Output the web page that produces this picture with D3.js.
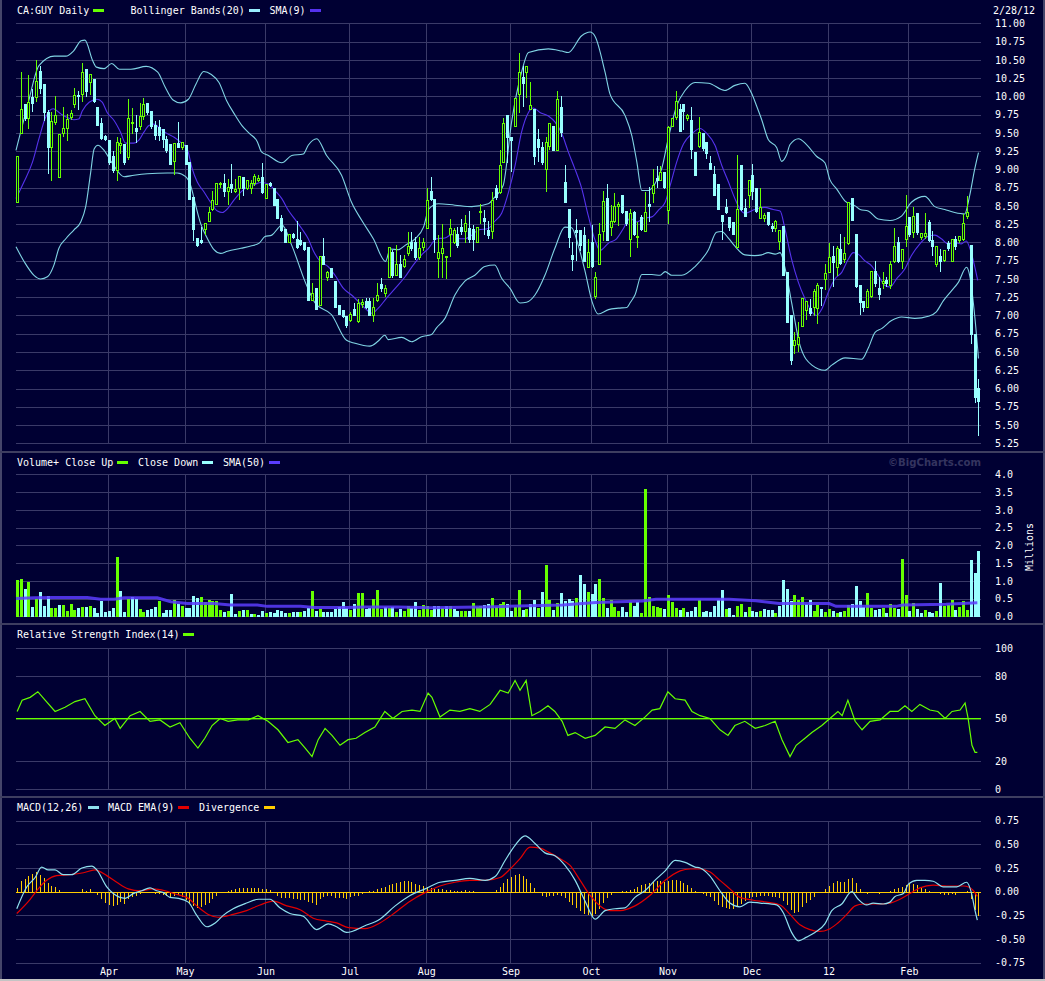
<!DOCTYPE html>
<html lang="en">
<head>
<meta charset="UTF-8">
<title>CA:GUY Daily</title>
<script src="https://d3js.org/d3.v7.min.js"></script>
<style>
  html, body { margin: 0; padding: 0; background: #000033; }
  svg { display: block; }
  text { font-family: "DejaVu Sans Mono", monospace; font-size: 10px; fill: #ffffff; }
</style>
</head>
<body>
<div id="chart"></div>
<script>
// ---- data (trading days Feb 28 2011 .. Feb 28 2012, index 0..251) ----
const monthLabels = ["Apr", "May", "Jun", "Jul", "Aug", "Sep", "Oct", "Nov", "Dec", "12", "Feb"];
const monthIdx = [24, 44, 65, 87, 107, 129, 150, 170, 192, 212, 233];

const priceTicks = [11.00, 10.75, 10.50, 10.25, 10.00, 9.75, 9.50, 9.25, 9.00, 8.75, 8.50, 8.25,
  8.00, 7.75, 7.50, 7.25, 7.00, 6.75, 6.50, 6.25, 6.00, 5.75, 5.50, 5.25];
const volTicks = [4.0, 3.5, 3.0, 2.5, 2.0, 1.5, 1.0, 0.5, 0.0];
const rsiTicks = [100, 80, 20, 0];
const rsiLabels = [100, 80, 50, 20, 0];
const macdTicks = [0.75, 0.50, 0.25, 0.00, -0.25, -0.50, -0.75];

const opens = [
  8.56, 9.50, 9.90, 9.71, 9.99, 9.99, 10.35, 10.17, 9.78, 9.30,
  9.65, 8.89, 9.50, 9.57, 9.72, 9.90, 10.02, 10.03, 10.37, 10.20,
  10.24, 9.86, 9.64, 9.46, 9.40, 9.19, 8.99, 9.34, 9.35, 9.17,
  9.64, 9.57, 9.60, 9.73, 9.91, 9.80, 9.61, 9.58, 9.55, 9.42,
  9.35, 9.11, 9.36, 9.30, 9.34, 9.10, 8.62, 8.06, 8.03, 8.18,
  8.30, 8.46, 8.53, 8.80, 8.82, 8.70, 8.80, 8.71, 8.74, 8.90,
  8.74, 8.74, 8.82, 8.86, 8.89, 8.61, 8.82, 8.75, 8.60, 8.33,
  8.19, 8.01, 8.12, 8.05, 8.03, 8.00, 7.94, 7.21, 7.38, 7.15,
  7.81, 7.52, 7.65, 7.47, 7.15, 7.08, 6.99, 6.94, 7.09, 6.92,
  7.16, 7.20, 7.20, 7.00, 7.21, 7.43, 7.31, 7.53, 7.87, 7.56,
  7.70, 7.68, 7.86, 8.01, 8.01, 7.80, 7.94, 8.20, 8.70, 8.60,
  7.79, 7.85, 7.80, 8.12, 8.01, 8.11, 8.21, 8.15, 8.20, 8.19,
  8.01, 8.42, 8.33, 8.17, 8.15, 8.74, 8.69, 9.10, 9.75, 9.45,
  9.60, 10.03, 10.26, 10.34, 9.83, 9.83, 9.42, 9.30, 9.01, 9.32,
  9.60, 9.26, 9.85, 8.83, 8.46, 7.83, 8.17, 8.17, 8.10, 7.67,
  8.01, 7.26, 7.71, 8.15, 8.61, 8.21, 8.30, 8.50, 8.65, 8.43,
  8.05, 8.41, 8.08, 8.35, 8.16, 8.52, 8.68, 8.88, 8.86, 8.96,
  8.44, 9.60, 9.72, 9.83, 9.90, 9.70, 9.67, 9.24, 9.32, 9.50,
  9.38, 9.09, 8.94, 8.80, 8.38, 8.49, 8.35, 8.28, 7.94, 9.06,
  8.47, 8.65, 8.93, 8.75, 8.34, 8.33, 8.41, 8.23, 8.20, 8.02,
  8.23, 7.59, 7.00, 6.60, 6.61, 6.85, 7.07, 7.10, 7.11, 7.10,
  7.39, 7.50, 7.60, 7.82, 7.66, 7.91, 7.77, 7.99, 8.61, 8.11,
  7.42, 7.20, 7.11, 7.26, 7.61, 7.37, 7.44, 7.49, 7.42, 7.75,
  8.00, 7.75, 8.05, 8.35, 8.14, 8.40, 8.07, 8.09, 8.28, 8.04,
  7.70, 7.82, 7.76, 7.99, 7.75, 8.05, 8.03, 8.05, 8.36, 7.96,
  6.75, 6.01];
const highs = [
  9.18, 10.33, 9.90, 10.29, 10.10, 10.50, 10.41, 10.17, 9.81, 9.78,
  10.00, 9.49, 9.85, 9.76, 9.81, 10.11, 10.08, 10.46, 10.37, 10.30,
  10.24, 9.86, 9.70, 9.47, 9.40, 9.25, 9.44, 9.43, 9.35, 9.96,
  9.84, 9.74, 9.91, 9.98, 9.91, 9.80, 9.66, 9.67, 9.55, 9.46,
  9.35, 9.36, 9.65, 9.38, 9.34, 9.10, 8.62, 8.06, 8.21, 8.27,
  8.49, 8.71, 8.82, 8.83, 8.94, 8.87, 9.08, 8.87, 8.91, 8.90,
  8.85, 8.85, 8.94, 8.93, 9.09, 8.80, 8.83, 8.75, 8.60, 8.37,
  8.19, 8.12, 8.13, 8.29, 8.14, 8.00, 7.94, 7.44, 7.38, 7.81,
  8.06, 7.61, 7.65, 7.47, 7.15, 7.08, 6.99, 7.05, 7.17, 7.23,
  7.23, 7.24, 7.24, 7.24, 7.45, 7.51, 7.42, 7.94, 7.89, 7.96,
  7.83, 7.83, 8.14, 8.14, 8.08, 8.08, 8.06, 8.75, 8.90, 8.60,
  8.10, 8.25, 7.81, 8.32, 8.20, 8.21, 8.32, 8.38, 8.43, 8.24,
  8.21, 8.52, 8.44, 8.30, 8.69, 8.78, 9.27, 9.70, 9.75, 9.45,
  9.98, 10.59, 10.41, 10.41, 10.19, 9.83, 9.55, 9.37, 9.44, 9.64,
  9.60, 10.08, 10.01, 9.06, 8.46, 8.01, 8.32, 8.17, 8.21, 8.05,
  8.24, 7.60, 8.27, 8.70, 8.80, 8.51, 8.68, 8.55, 8.65, 8.43,
  8.46, 8.43, 8.28, 8.37, 8.69, 8.76, 9.00, 9.05, 9.05, 8.96,
  9.60, 9.70, 10.08, 9.90, 9.90, 9.76, 9.86, 9.24, 9.72, 9.50,
  9.38, 9.19, 9.05, 8.80, 8.38, 8.60, 8.35, 8.28, 9.20, 9.06,
  8.59, 8.86, 9.08, 8.75, 8.74, 8.40, 8.41, 8.27, 8.31, 8.17,
  8.23, 7.59, 7.00, 6.77, 6.91, 7.24, 7.20, 7.23, 7.36, 7.45,
  7.39, 7.70, 7.99, 7.95, 7.95, 8.11, 8.07, 8.55, 8.61, 8.11,
  7.42, 7.20, 7.36, 7.61, 7.74, 7.52, 7.59, 7.53, 7.75, 8.20,
  8.07, 7.91, 8.65, 8.35, 8.49, 8.40, 8.13, 8.40, 8.31, 8.16,
  7.95, 7.91, 7.90, 8.02, 8.05, 8.09, 8.09, 8.39, 8.63, 7.96,
  6.75, 6.13];
const lows = [
  8.56, 9.50, 9.67, 9.57, 9.80, 9.93, 10.05, 9.68, 8.95, 8.85,
  9.62, 8.89, 9.46, 9.40, 9.69, 9.86, 9.83, 9.94, 10.00, 10.03,
  9.92, 9.61, 9.42, 9.40, 9.08, 8.96, 8.85, 9.22, 9.08, 9.14,
  9.50, 9.37, 9.55, 9.69, 9.76, 9.56, 9.42, 9.40, 9.30, 9.24,
  9.08, 8.94, 9.30, 9.28, 9.08, 8.60, 8.03, 7.95, 7.99, 8.12,
  8.30, 8.44, 8.52, 8.76, 8.64, 8.52, 8.69, 8.69, 8.60, 8.65,
  8.73, 8.67, 8.79, 8.84, 8.67, 8.61, 8.77, 8.51, 8.33, 8.15,
  8.00, 8.01, 8.06, 7.93, 7.97, 7.90, 7.21, 7.21, 7.09, 7.15,
  7.70, 7.49, 7.52, 7.12, 7.02, 6.98, 6.84, 6.93, 7.00, 6.91,
  7.12, 7.10, 7.00, 6.93, 7.20, 7.33, 7.26, 7.53, 7.53, 7.55,
  7.52, 7.66, 7.83, 7.90, 7.78, 7.78, 7.89, 8.20, 8.58, 7.87,
  7.52, 7.53, 7.51, 7.81, 7.99, 7.94, 8.12, 8.01, 8.01, 7.90,
  8.01, 8.27, 8.12, 8.06, 8.06, 8.60, 8.67, 9.10, 9.10, 8.98,
  9.60, 9.78, 9.87, 9.99, 9.83, 9.08, 9.12, 9.08, 8.70, 9.28,
  9.26, 9.26, 9.46, 8.55, 7.94, 7.62, 7.76, 7.90, 7.74, 7.67,
  7.67, 7.24, 7.71, 8.03, 8.03, 8.10, 8.28, 8.24, 8.40, 8.24,
  7.81, 8.10, 7.94, 8.17, 8.16, 8.30, 8.55, 8.76, 8.85, 8.74,
  8.26, 9.60, 9.69, 9.53, 9.55, 9.68, 9.15, 8.92, 9.30, 9.26,
  9.15, 9.01, 8.65, 8.46, 8.05, 8.40, 8.17, 8.12, 7.94, 8.44,
  8.36, 8.48, 8.59, 8.41, 8.34, 8.30, 8.24, 8.16, 8.16, 7.91,
  7.55, 6.91, 6.33, 6.49, 6.52, 6.85, 6.95, 7.00, 7.00, 6.90,
  7.14, 7.36, 7.60, 7.41, 7.55, 7.70, 7.73, 7.98, 8.31, 7.39,
  7.02, 7.06, 7.11, 7.25, 7.41, 7.22, 7.38, 7.41, 7.38, 7.73,
  7.73, 7.65, 7.95, 8.09, 8.07, 8.12, 8.05, 8.06, 8.02, 7.83,
  7.68, 7.61, 7.75, 7.90, 7.75, 7.91, 8.00, 8.03, 8.33, 6.63,
  5.82, 5.37];
const closes = [
  9.18, 9.83, 9.71, 9.92, 9.91, 10.21, 10.12, 9.78, 9.30, 9.66,
  9.75, 9.49, 9.57, 9.69, 9.77, 10.02, 10.00, 10.34, 10.07, 10.30,
  9.94, 9.61, 9.43, 9.42, 9.10, 8.99, 9.37, 9.36, 9.10, 9.71,
  9.65, 9.53, 9.73, 9.90, 9.78, 9.60, 9.47, 9.47, 9.42, 9.26,
  9.08, 9.36, 9.30, 9.37, 9.08, 8.60, 8.19, 7.97, 8.00, 8.27,
  8.41, 8.58, 8.82, 8.82, 8.70, 8.76, 8.74, 8.73, 8.91, 8.74,
  8.85, 8.82, 8.91, 8.88, 8.69, 8.80, 8.78, 8.51, 8.34, 8.17,
  8.01, 8.12, 8.08, 7.94, 7.98, 7.91, 7.21, 7.31, 7.09, 7.81,
  7.70, 7.59, 7.53, 7.12, 7.02, 6.99, 6.87, 7.02, 7.00, 7.17,
  7.19, 7.12, 7.01, 7.12, 7.28, 7.38, 7.37, 7.94, 7.55, 7.70,
  7.53, 7.78, 7.95, 7.92, 7.80, 7.92, 8.01, 8.58, 8.60, 8.05,
  7.87, 7.92, 7.81, 8.20, 8.17, 7.96, 8.15, 8.26, 8.05, 8.05,
  8.21, 8.43, 8.30, 8.10, 8.58, 8.62, 9.06, 9.63, 9.44, 9.40,
  9.98, 10.34, 10.18, 10.41, 9.88, 9.19, 9.30, 9.10, 9.37, 9.64,
  9.26, 9.97, 9.51, 8.55, 8.08, 7.78, 8.14, 7.97, 7.74, 7.87,
  7.68, 7.53, 8.12, 8.57, 8.03, 8.30, 8.50, 8.53, 8.42, 8.26,
  8.40, 8.12, 8.09, 8.19, 8.42, 8.50, 8.78, 8.85, 8.96, 8.76,
  9.58, 9.70, 9.94, 9.53, 9.80, 9.75, 9.28, 8.92, 9.51, 9.29,
  9.23, 9.01, 8.65, 8.46, 8.30, 8.42, 8.21, 8.12, 8.46, 8.46,
  8.36, 8.85, 8.70, 8.43, 8.48, 8.38, 8.25, 8.20, 8.29, 8.17,
  7.55, 6.91, 6.39, 6.67, 6.70, 7.24, 7.20, 7.04, 7.34, 7.42,
  7.37, 7.58, 7.80, 7.73, 7.93, 7.72, 7.85, 8.55, 8.31, 7.41,
  7.18, 7.11, 7.33, 7.61, 7.45, 7.30, 7.47, 7.45, 7.70, 7.95,
  7.75, 7.91, 8.22, 8.11, 8.36, 8.14, 8.13, 8.13, 8.04, 7.95,
  7.95, 7.75, 7.89, 7.93, 8.05, 7.95, 8.09, 8.27, 8.41, 6.75,
  5.89, 5.83];

// volume, millions
const volumes = [
  1.01, 1.04, 0.76, 0.98, 0.27, 0.48, 0.68, 0.29, 0.56, 0.23,
  0.23, 0.31, 0.31, 0.15, 0.34, 0.19, 0.22, 0.27, 0.27, 0.29,
  0.23, 0.09, 0.43, 0.12, 0.15, 0.23, 1.68, 0.70, 0.12, 0.50,
  0.53, 0.50, 0.20, 0.12, 0.18, 0.20, 0.27, 0.43, 0.09, 0.18,
  0.18, 0.45, 0.36, 0.29, 0.23, 0.23, 0.56, 0.52, 0.54, 0.39,
  0.45, 0.43, 0.43, 0.18, 0.12, 0.15, 0.62, 0.06, 0.15, 0.18,
  0.18, 0.06, 0.06, 0.04, 0.15, 0.09, 0.12, 0.09, 0.18, 0.15,
  0.09, 0.09, 0.12, 0.12, 0.12, 0.15, 0.23, 0.70, 0.15, 0.20,
  0.12, 0.12, 0.12, 0.20, 0.26, 0.40, 0.23, 0.18, 0.34, 0.65,
  0.65, 0.20, 0.23, 0.48, 0.73, 0.20, 0.25, 0.23, 0.26, 0.12,
  0.20, 0.15, 0.29, 0.23, 0.40, 0.18, 0.31, 0.29, 0.18, 0.29,
  0.29, 0.23, 0.29, 0.29, 0.20, 0.15, 0.15, 0.15, 0.15, 0.37,
  0.26, 0.29, 0.31, 0.34, 0.51, 0.25, 0.36, 0.40, 0.34, 0.15,
  0.26, 0.73, 0.18, 0.20, 0.34, 0.45, 0.23, 0.68, 1.45, 0.45,
  0.18, 0.37, 0.65, 0.43, 0.48, 0.43, 0.51, 1.15, 0.90, 0.68,
  0.62, 0.90, 1.06, 0.51, 0.23, 0.45, 0.26, 0.15, 0.26, 0.12,
  0.40, 0.29, 0.40, 0.09, 3.60, 0.54, 0.29, 0.26, 0.23, 0.20,
  0.59, 0.40, 0.23, 0.18, 0.23, 0.12, 0.15, 0.26, 0.45, 0.12,
  0.15, 0.12, 0.29, 0.45, 0.73, 0.20, 0.23, 0.04, 0.29, 0.34,
  0.12, 0.26, 0.15, 0.12, 0.15, 0.20, 0.18, 0.18, 0.09, 0.29,
  1.01, 0.76, 0.43, 0.59, 0.45, 0.54, 0.34, 0.45, 0.15, 0.31,
  0.20, 0.12, 0.20, 0.15, 0.09, 0.12, 0.15, 0.31, 0.34, 0.84,
  0.43, 0.26, 0.65, 0.23, 0.18, 0.20, 0.23, 0.09, 0.34, 0.23,
  0.20, 1.62, 0.59, 0.15, 0.37, 0.20, 0.09, 0.18, 0.12, 0.09,
  0.15, 0.95, 0.29, 0.31, 0.45, 0.18, 0.26, 0.43, 0.18, 1.59,
  1.23, 1.83];

// MACD divergence bars, one per day
const divergence = [
  0.05, 0.12, 0.15, 0.18, 0.20, 0.22, 0.19, 0.16, 0.10, 0.07,
  0.06, 0.03, 0, 0, 0, 0.01, 0.01, 0.04, 0.02, 0.04,
  0, -0.02, -0.07, -0.11, -0.13, -0.14, -0.13, -0.10, -0.12, -0.07,
  -0.05, -0.03, -0.01, 0, 0, 0, -0.01, -0.01, -0.02, -0.03,
  -0.06, -0.04, -0.02, -0.05, -0.08, -0.11, -0.14, -0.16, -0.15, -0.13,
  -0.11, -0.07, -0.03, 0, 0, 0.02, 0.03, 0.04, 0.05, 0.05,
  0.05, 0.05, 0.05, 0.05, 0.04, 0.04, 0.03, 0, -0.04, -0.06,
  -0.06, -0.06, -0.07, -0.07, -0.08, -0.08, -0.10, -0.11, -0.13, -0.07,
  -0.05, -0.03, -0.04, -0.06, -0.06, -0.06, -0.07, -0.05, -0.04, -0.03,
  -0.01, 0.01, 0.02, 0.02, 0.04, 0.05, 0.06, 0.08, 0.09, 0.10,
  0.11, 0.12, 0.12, 0.11, 0.09, 0.08, 0.07, 0.06, 0.05, 0.04,
  0.04, 0.04, 0.03, 0.03, 0.02, 0.02, 0.02, 0.03, 0.02, 0.02,
  0.01, 0.01, 0, 0, 0.01, 0.03, 0.06, 0.10, 0.14, 0.17,
  0.19, 0.20, 0.18, 0.15, 0.10, 0.05, 0, -0.03, -0.05, -0.04,
  -0.03, -0.02, -0.03, -0.06, -0.10, -0.13, -0.16, -0.19, -0.22, -0.24,
  -0.25, -0.23, -0.17, -0.11, -0.06, -0.02, 0, 0.01, 0.02, 0.02,
  0.03, 0.04, 0.06, 0.08, 0.09, 0.10, 0.11, 0.12, 0.12, 0.11,
  0.12, 0.13, 0.13, 0.12, 0.10, 0.08, 0.05, 0.02, 0, -0.01,
  -0.03, -0.05, -0.09, -0.13, -0.15, -0.16, -0.17, -0.17, -0.14, -0.12,
  -0.09, -0.06, -0.05, -0.05, -0.04, -0.04, -0.04, -0.05, -0.05, -0.06,
  -0.09, -0.13, -0.18, -0.21, -0.20, -0.15, -0.11, -0.08, -0.05, 0,
  0, 0.04, 0.07, 0.10, 0.12, 0.11, 0.11, 0.15, 0.16, 0.10,
  0.04, 0, -0.01, 0, 0, -0.01, 0, 0, 0.02, 0.04,
  0.05, 0.06, 0.08, 0.10, 0.09, 0.08, 0.06, 0.04, 0.02, 0,
  0, -0.01, -0.02, -0.02, -0.01, -0.02, 0, 0.01, 0.02, -0.07,
  -0.18, -0.25];

// indicator lines as [day index, value]
const bbUpper = [[0,9.26],[3,9.87],[6,10.42],[10,10.55],[13,10.55],[15,10.62],[17,10.76],[18,10.77],[20,10.49],[21,10.40],[23,10.38],[25,10.45],[27,10.37],[30,10.37],[34,10.41],[37,10.33],[39,10.12],[41,9.95],[43,9.91],[45,9.96],[47,10.17],[49,10.34],[51,10.30],[53,10.19],[55,9.94],[57,9.76],[59,9.60],[61,9.49],[63,9.38],[64.1,9.24],[65.9,9.19],[69.4,9.09],[72,9.19],[75,9.21],[76.3,9.33],[78.5,9.42],[81.1,9.19],[85,8.92],[87.6,8.55],[90.3,8.30],[93.3,8.05],[96.5,7.74],[97.7,7.91],[99.8,7.90],[101.6,7.96],[104.2,8.05],[106.4,8.21],[107.8,8.46],[110.3,8.53],[114.6,8.51],[119,8.49],[123.3,8.53],[125,8.62],[127.2,8.78],[129.4,9.65],[132,10.33],[133.8,10.60],[139,10.65],[142.5,10.62],[144.2,10.60],[147.7,10.83],[149.9,10.88],[151.2,10.82],[153.8,10.33],[155.1,10.03],[159,9.74],[160.8,9.46],[162.1,9.10],[163.4,8.71],[165.1,8.71],[166.8,8.80],[168.6,9.01],[170.3,9.42],[172.5,9.87],[174.7,10.08],[177.3,10.19],[180.8,10.18],[185.1,10.08],[187.7,10.15],[190.3,10.18],[192,10.05],[193.5,9.85],[194.7,9.68],[196.4,9.41],[198.6,9.30],[199.9,9.11],[201.2,9.20],[202.1,9.34],[204.3,9.42],[206.4,9.34],[209,9.18],[211.2,9.09],[212.5,8.86],[214.3,8.73],[216.4,8.57],[219.1,8.50],[220.4,8.45],[222.5,8.43],[225.1,8.32],[228.2,8.30],[231.2,8.36],[233.8,8.55],[237.3,8.63],[239.9,8.49],[242.5,8.45],[245.1,8.41],[247.7,8.39],[249,8.64],[250.3,9.00],[251.3,9.23]];
const bbLower = [[0,7.94],[2.1,7.74],[4.7,7.55],[6.4,7.50],[8.2,7.53],[9.9,7.69],[11.2,7.92],[13,8.05],[15.1,8.17],[16.9,8.28],[18.2,8.49],[19.5,8.96],[20.4,9.28],[21.4,9.33],[23,9.26],[25.2,9.08],[28.2,8.90],[30.8,8.92],[34.3,8.94],[39.5,8.95],[42.1,8.95],[44.3,8.90],[45.6,8.78],[46.9,8.51],[48.2,8.26],[50,8.05],[51.7,7.90],[53.4,7.85],[55.2,7.88],[58.7,7.92],[61.3,7.95],[63.5,7.99],[65,8.08],[66.8,8.10],[68.5,8.20],[69.4,8.24],[72,7.96],[75.5,7.46],[78.1,7.17],[82.4,7.01],[86.3,6.66],[88.5,6.62],[92.4,6.58],[94.6,6.65],[96.3,6.73],[97.2,6.67],[100.7,6.70],[103.3,6.64],[105.9,6.71],[108.5,6.74],[109.8,6.83],[112,6.96],[114.6,7.28],[117.2,7.47],[119.8,7.55],[122.4,7.67],[125,7.69],[126.8,7.51],[129,7.37],[131.6,7.17],[133.3,7.18],[135.5,7.28],[138.1,7.55],[140.7,7.92],[143.3,8.21],[145.1,8.20],[146.8,7.96],[148.6,7.60],[150.4,7.19],[152,7.02],[154.7,7.08],[157.3,7.10],[159.5,7.11],[160.3,7.17],[161.6,7.28],[163.4,7.56],[166,7.56],[168.2,7.55],[169.5,7.60],[171.2,7.55],[173.8,7.55],[177.3,7.67],[180.8,7.90],[182.9,8.14],[184.2,8.15],[186,8.06],[187.7,7.95],[190.3,7.83],[192.9,7.82],[194.7,7.83],[196.4,7.86],[198.2,7.84],[199.5,7.86],[201,7.60],[202.5,7.18],[204.7,6.59],[207.8,6.32],[211.2,6.25],[213,6.32],[216.5,6.42],[220.8,6.40],[222.5,6.55],[224.3,6.77],[226,6.82],[228.6,6.93],[231.2,6.98],[234.7,6.96],[238.2,6.99],[240.3,7.05],[242.1,7.20],[244.3,7.34],[246,7.45],[248.2,7.66],[249,7.55],[250.4,6.95],[251.3,6.41]];
const sma9 = [[0,8.60],[2.1,8.83],[4.3,9.10],[6,9.42],[7.7,9.71],[9.7,9.83],[11.7,9.76],[13.4,9.71],[15.1,9.68],[16.4,9.69],[17.3,9.80],[19.1,9.92],[21.2,9.96],[22.5,9.92],[23.8,9.78],[25.6,9.67],[27.3,9.51],[28.6,9.36],[30.8,9.36],[32.1,9.40],[33.4,9.51],[34.7,9.60],[36,9.62],[37.8,9.55],[39.5,9.49],[41.3,9.44],[43,9.37],[44.7,9.28],[46,9.01],[47.3,8.83],[49.1,8.69],[50.8,8.55],[52.6,8.43],[53.9,8.41],[55.2,8.46],[56.9,8.58],[58.7,8.69],[60.4,8.76],[62.1,8.79],[64,8.82],[65.9,8.80],[67.6,8.71],[69.4,8.60],[71.1,8.44],[72.8,8.32],[74.6,8.19],[76.3,8.05],[77.6,7.89],[79.4,7.74],[81.5,7.67],[83.3,7.55],[85.5,7.37],[87.6,7.28],[89.8,7.17],[91.5,7.08],[92.9,7.03],[94.6,7.10],[96.8,7.24],[99,7.37],[101.6,7.53],[103.7,7.69],[105.9,7.83],[107.7,7.92],[109.8,8.05],[112,8.06],[113.8,8.11],[115.5,8.05],[117.2,8.05],[119,8.10],[120.7,8.17],[123.3,8.19],[125,8.29],[126.8,8.40],[128.6,8.69],[130.3,9.05],[132,9.51],[133.8,9.78],[135.1,9.84],[136.8,9.78],[139,9.73],[140.7,9.65],[142.5,9.49],[144.2,9.24],[145.9,9.01],[147.7,8.74],[149.4,8.37],[151.2,8.03],[152.5,7.89],[154.7,7.99],[156.8,8.05],[158.6,8.19],[160.3,8.33],[162.1,8.28],[163.8,8.33],[166,8.35],[167.7,8.44],[169.5,8.55],[170.8,8.78],[172.5,9.10],[174.3,9.35],[176.5,9.49],[178.6,9.56],[180.4,9.49],[182.5,9.33],[184.3,9.05],[186,8.83],[187.7,8.60],[189,8.46],[190.3,8.40],[192.9,8.45],[195.5,8.48],[197.7,8.45],[199.5,8.43],[200.8,8.18],[202.5,7.77],[204.3,7.45],[206,7.23],[207.8,7.05],[209,7.00],[210.4,7.09],[212.1,7.32],[213.8,7.50],[215.6,7.59],[217.3,7.77],[218.6,7.86],[219.9,7.84],[221.6,7.75],[223.4,7.68],[225.1,7.55],[226.9,7.41],[228.2,7.39],[229.9,7.50],[232.1,7.64],[233.8,7.82],[236,7.98],[238.1,8.08],[239.9,8.10],[241.6,8.05],[243.4,7.98],[245.1,8.00],[246.8,7.98],[248.1,8.02],[249.4,7.86],[251.1,7.48]];
const volSma50 = [[0,0.50],[4.7,0.52],[9.9,0.53],[18.6,0.53],[22.1,0.48],[25.6,0.48],[28.2,0.52],[36.9,0.52],[40.4,0.41],[44.7,0.36],[51.7,0.36],[56,0.32],[63,0.32],[65.6,0.28],[74.3,0.28],[77.8,0.25],[86.5,0.25],[90.9,0.26],[99.6,0.26],[108.3,0.24],[124.8,0.27],[134,0.30],[142.7,0.32],[151.4,0.39],[163.6,0.43],[167.1,0.48],[173.2,0.48],[186.2,0.48],[193.2,0.44],[199.3,0.36],[212.3,0.36],[214.1,0.28],[229.8,0.28],[231.5,0.32],[242.8,0.34],[251,0.38]];
const rsi14 = [[0.3,55],[1.6,63],[3.7,65],[5.7,69],[7.6,63],[10.2,55],[12.8,58],[15.4,62],[18,64],[20.6,52],[23.2,45],[25.8,50],[27.2,43],[29.8,52],[32.4,55],[35,48],[37.6,49],[40.2,44],[42.8,47],[45.4,36],[47.5,29],[49.3,36],[51.2,45],[53.3,50],[55.4,48],[57.9,49],[60.6,49],[63.2,52],[65.8,48],[68.4,42],[71,33],[73.6,35],[75.5,29],[77.3,23],[78.9,35],[80.7,43],[82.5,38],[84.6,31],[86.7,35],[88.8,36],[91.1,40],[93.7,44],[96.3,55],[98.4,50],[100.8,55],[103.4,56],[105.5,55],[107.6,68],[108.6,65],[110.7,51],[113.3,56],[115.9,55],[118.5,57],[121.1,55],[123.8,60],[126.4,70],[128.5,68],[130.3,77],[131.6,70],[133.2,77],[134.7,52],[136.8,55],[138.9,59],[140.7,55],[142.6,48],[144.1,38],[146,40],[148.6,36],[151.2,38],[153.8,44],[156.4,43],[159,49],[161.6,45],[164.2,51],[166.1,56],[168.1,57],[170.2,69],[172.1,64],[174.7,63],[176.5,55],[178.6,52],[181.2,50],[183.8,42],[185.9,38],[187.7,45],[190.3,48],[193,43],[195.6,45],[198.2,48],[200,35],[202.1,23],[203.7,31],[206,36],[207.8,40],[210.4,45],[212.5,50],[214.6,55],[215.7,52],[217.2,63],[219.1,48],[220.9,42],[223,48],[225.6,49],[228.2,55],[230.3,55],[232.1,59],[233.9,55],[236,60],[238.6,56],[240.7,55],[242.6,50],[244.4,55],[246.5,56],[247.8,61],[248.6,50],[249.6,31],[250.4,26],[251,26]];
const macdLine = [[0.2,-0.18],[2.8,0.05],[5,0.15],[6.7,0.26],[8.4,0.23],[10.2,0.23],[12.3,0.18],[14.5,0.18],[17.2,0.25],[19.8,0.27],[21.1,0.23],[23.7,0.05],[25.4,-0.02],[28.5,-0.07],[30.6,-0.02],[32.8,0.01],[35,0.04],[36.7,0.01],[38.5,-0.01],[40.2,-0.06],[42.4,-0.07],[45,-0.11],[47.2,-0.25],[49.8,-0.37],[52,-0.33],[54.1,-0.25],[56.7,-0.18],[60.2,-0.12],[63.3,-0.08],[66.3,-0.08],[68.9,-0.17],[71.5,-0.23],[75,-0.26],[78.5,-0.40],[81.5,-0.34],[83.7,-0.37],[86.3,-0.43],[91.1,-0.36],[95,-0.29],[99,-0.15],[102.9,-0.04],[106.8,0.03],[110.7,0.10],[114.6,0.12],[118.5,0.14],[122.5,0.12],[125.1,0.16],[127.7,0.33],[130.3,0.49],[132.9,0.59],[135.5,0.51],[138.1,0.41],[140.7,0.38],[143.3,0.28],[146,0.12],[148.6,-0.10],[151.2,-0.29],[153.8,-0.20],[156.4,-0.18],[159,-0.17],[161.6,-0.06],[164.2,0.01],[166.8,0.12],[169.5,0.22],[172.1,0.33],[174.7,0.31],[177.3,0.26],[178.6,0.25],[181.1,0.17],[183.8,0.01],[186.4,-0.12],[189,-0.16],[191.6,-0.11],[194.3,-0.12],[198.6,-0.14],[200.3,-0.22],[202.5,-0.43],[204.3,-0.52],[206.4,-0.48],[208.6,-0.43],[211.2,-0.34],[213,-0.20],[215.6,-0.13],[218.2,0],[219.9,-0.08],[222.1,-0.14],[223.8,-0.12],[226.4,-0.13],[228.2,-0.11],[229.5,-0.05],[231.7,-0.02],[233,0.08],[235.2,0.12],[237.3,0.12],[239.5,0.11],[242.1,0.05],[245.6,0.05],[248.2,0.10],[249.5,-0.02],[250.4,-0.20],[251,-0.30]];
const macdSignal = [[0.2,-0.23],[3.7,-0.08],[5.8,0.03],[8,0.12],[10.6,0.17],[14.1,0.18],[17.6,0.20],[20.6,0.23],[23.7,0.17],[26.3,0.10],[29.3,0.03],[32.4,0.01],[35.8,0.03],[38.9,0.01],[42,-0.03],[44.6,-0.06],[47.2,-0.15],[50.2,-0.24],[52.8,-0.27],[56.7,-0.24],[60.2,-0.20],[63.7,-0.14],[67.2,-0.10],[70.7,-0.15],[74.2,-0.19],[77.6,-0.28],[81.1,-0.31],[83.7,-0.33],[86.8,-0.38],[91.1,-0.39],[95,-0.33],[99,-0.22],[102.9,-0.10],[106.8,-0.01],[110.7,0.06],[114.6,0.10],[118.5,0.12],[122.5,0.12],[126.4,0.15],[129,0.24],[131.6,0.35],[134.2,0.47],[136.8,0.46],[139.4,0.41],[142,0.35],[144.6,0.28],[147.3,0.12],[149.9,-0.04],[152.5,-0.15],[155.1,-0.20],[157.7,-0.20],[161.6,-0.15],[165.5,-0.04],[169.5,0.12],[173.4,0.22],[176,0.24],[178.6,0.24],[181.1,0.21],[183.8,0.12],[186.4,0.03],[189,-0.06],[192.5,-0.09],[196,-0.11],[199.5,-0.14],[202.1,-0.24],[204.7,-0.35],[207.3,-0.40],[209.9,-0.42],[212.1,-0.40],[214.3,-0.34],[216.9,-0.24],[219.1,-0.15],[221.2,-0.13],[224.7,-0.13],[228.2,-0.12],[230.8,-0.08],[233.4,-0.02],[236,0.04],[239.5,0.07],[243,0.06],[247.4,0.06],[248.7,0.05],[250,0.01],[251,-0.05]];

// ---- drawing ----
const W = 1045, H = 981;
const plotL = 16, plotR = 981, labelX = 995;
const BG = "#000033", GRID = "#3a3a68", GREEN = "#66ff00", CYAN = "#99ffff",
      BAND = "#80d4e4", SMA = "#5532ee", RED = "#e20000", DIV = "#ffcc00", MACDC = "#8fe0ee";

const svg = d3.select("#chart").append("svg")
  .attr("width", W).attr("height", H)
  .style("background", BG);

const x = d3.scaleLinear().domain([0, 251]).range([16, 16 + 251 * 3.83]);
const px = i => Math.round(x(i));

const yP = d3.scaleLinear().domain([5.25, 11]).range([443.3, 23.3]);
const yV = d3.scaleLinear().domain([0, 4]).range([616.3, 474.3]);
const yR = d3.scaleLinear().domain([0, 100]).range([789, 648]);
const yM = d3.scaleLinear().domain([-0.75, 0.75]).range([962.7, 820.7]);

function grid(yScale, ticks) {
  const g = svg.append("g").attr("shape-rendering", "crispEdges");
  g.selectAll("line.h").data(ticks).join("line").attr("class", "h")
    .attr("x1", plotL).attr("x2", plotR)
    .attr("y1", d => Math.round(yScale(d)) + 0.5).attr("y2", d => Math.round(yScale(d)) + 0.5)
    .attr("stroke", GRID);
  const [lo, hi] = yScale.range();
  g.selectAll("line.v").data(monthIdx).join("line").attr("class", "v")
    .attr("x1", d => px(d) + 0.5).attr("x2", d => px(d) + 0.5)
    .attr("y1", Math.round(hi)).attr("y2", Math.round(lo) + 1)
    .attr("stroke", GRID);
}

function yLabels(yScale, ticks, fmt) {
  const ax = svg.append("g")
    .attr("transform", `translate(${labelX},0)`)
    .call(d3.axisRight(yScale).tickValues(ticks).tickFormat(fmt).tickSize(0).tickPadding(0));
  ax.select(".domain").remove();
  ax.selectAll(".tick line").remove();
  ax.selectAll("text")
    .attr("font-family", "DejaVu Sans Mono, monospace")
    .attr("font-size", 10).attr("fill", "#ffffff");
}

grid(yP, priceTicks);
grid(yV, volTicks);
grid(yR, rsiTicks);
grid(yM, macdTicks);

yLabels(yP, priceTicks, d3.format(".2f"));
yLabels(yV, volTicks, d3.format(".1f"));
yLabels(yR, rsiLabels, d3.format("d"));
yLabels(yM, macdTicks, d => (d < 0 ? "-" : "") + d3.format(".2f")(Math.abs(d)));

// panel frame
const frame = svg.append("g").attr("shape-rendering", "crispEdges");
frame.append("rect").attr("x", 0).attr("y", 0).attr("width", 1.5).attr("height", H).attr("fill", "#45456a");
frame.append("rect").attr("x", 1043).attr("y", 0).attr("width", 2).attr("height", H).attr("fill", "#45456a");
[451, 622.5, 796].forEach(yy => {
  frame.append("rect").attr("x", 0).attr("y", yy).attr("width", W).attr("height", 2).attr("fill", "#3e3e60");
});
frame.append("rect").attr("x", 0).attr("y", 979).attr("width", W).attr("height", 2).attr("fill", "#c4c4c4");

// ---- price panel ----
const line = (ys, curve) => d3.line().x(d => x(d[0])).y(d => ys(d[1])).curve(curve);

svg.append("path").datum(bbUpper).attr("d", line(yP, d3.curveMonotoneX))
  .attr("fill", "none").attr("stroke", BAND).attr("stroke-width", 1.1);
svg.append("path").datum(bbLower).attr("d", line(yP, d3.curveMonotoneX))
  .attr("fill", "none").attr("stroke", BAND).attr("stroke-width", 1.1);
svg.append("path").datum(sma9).attr("d", line(yP, d3.curveMonotoneX))
  .attr("fill", "none").attr("stroke", SMA).attr("stroke-width", 1.1);

const days = d3.range(closes.length);
const cg = svg.append("g").attr("shape-rendering", "crispEdges");
const candle = cg.selectAll("g").data(days).join("g");
const isUp = i => closes[i] >= opens[i];

candle.append("line")
  .attr("x1", i => px(i) + 1.5).attr("x2", i => px(i) + 1.5)
  .attr("y1", i => Math.round(yP(highs[i])))
  .attr("y2", i => Math.round(yP(lows[i])) + 1)
  .attr("stroke", i => isUp(i) ? GREEN : CYAN);

candle.filter(i => !isUp(i)).append("rect")
  .attr("x", i => px(i)).attr("width", 3)
  .attr("y", i => Math.round(yP(opens[i])))
  .attr("height", i => Math.max(1, Math.round(yP(closes[i])) - Math.round(yP(opens[i])) + 1))
  .attr("fill", CYAN);

candle.filter(i => isUp(i)).append("rect")
  .attr("x", i => px(i) + 0.5).attr("width", 2)
  .attr("y", i => Math.round(yP(closes[i])) + 0.5)
  .attr("height", i => Math.max(0.01, Math.round(yP(opens[i])) - Math.round(yP(closes[i]))))
  .attr("fill", BG).attr("stroke", GREEN).attr("stroke-width", 1);

// ---- volume panel ----
const vUp = i => i === 0 || closes[i] >= closes[i - 1];
svg.append("g").attr("shape-rendering", "crispEdges")
  .selectAll("rect").data(days).join("rect")
  .attr("x", i => px(i)).attr("width", 3)
  .attr("y", i => Math.round(yV(volumes[i])))
  .attr("height", i => Math.round(yV(0)) - Math.round(yV(volumes[i])) + 1)
  .attr("fill", i => vUp(i) ? GREEN : CYAN);

svg.append("path").datum(volSma50).attr("d", line(yV, d3.curveLinear))
  .attr("fill", "none").attr("stroke", "#5a3cff").attr("stroke-width", 3).attr("opacity", 0.85);

// ---- RSI panel ----
svg.append("rect").attr("x", plotL).attr("width", plotR - plotL)
  .attr("y", 718).attr("height", 1.4)
  .attr("fill", GREEN);
svg.append("path").datum(rsi14).attr("d", line(yR, d3.curveLinear))
  .attr("fill", "none").attr("stroke", GREEN).attr("stroke-width", 1.2);

// ---- MACD panel ----
svg.append("g").attr("shape-rendering", "crispEdges")
  .selectAll("line").data(days).join("line")
  .attr("x1", i => px(i) + 1.5).attr("x2", i => px(i) + 1.5)
  .attr("y1", Math.round(yM(0)) + 0.5)
  .attr("y2", i => Math.round(yM(divergence[i])) + 0.5)
  .attr("stroke", DIV);
svg.append("line").attr("x1", plotL).attr("x2", plotR)
  .attr("y1", Math.round(yM(0)) + 0.5).attr("y2", Math.round(yM(0)) + 0.5)
  .attr("stroke", DIV).attr("shape-rendering", "crispEdges");
svg.append("path").datum(macdSignal).attr("d", line(yM, d3.curveMonotoneX))
  .attr("fill", "none").attr("stroke", RED).attr("stroke-width", 1.2);
svg.append("path").datum(macdLine).attr("d", line(yM, d3.curveMonotoneX))
  .attr("fill", "none").attr("stroke", MACDC).attr("stroke-width", 1.2);

// ---- x axis month labels ----
const xa = svg.append("g")
  .attr("transform", "translate(0.5,962.7)")
  .call(d3.axisBottom(x).tickValues(monthIdx).tickFormat((d, i) => monthLabels[i]).tickSize(0).tickPadding(5.7));
xa.select(".domain").remove();
xa.selectAll(".tick line").remove();
xa.selectAll("text").attr("font-family", "DejaVu Sans Mono, monospace").attr("font-size", 10).attr("fill", "#ffffff");

// ---- legends ----
function legend(items, yBase) {
  items.forEach(it => {
    if (it.text) svg.append("text").attr("x", it.x).attr("y", yBase).text(it.text);
    else svg.append("rect").attr("x", it.x).attr("y", yBase - 5).attr("width", it.w)
      .attr("height", 3).attr("fill", it.color).attr("shape-rendering", "crispEdges");
  });
}
legend([
  { x: 17, text: "CA:GUY Daily" }, { x: 93, w: 11, color: GREEN },
  { x: 130.5, text: "Bollinger Bands(20)" }, { x: 249, w: 11, color: "#99eeff" },
  { x: 269.5, text: "SMA(9)" }, { x: 310, w: 11, color: SMA }
], 13.5);
legend([
  { x: 17, text: "Volume+ Close Up" }, { x: 117, w: 11, color: GREEN },
  { x: 138, text: "Close Down" }, { x: 202, w: 11, color: CYAN },
  { x: 223, text: "SMA(50)" }, { x: 269, w: 11, color: "#5a3cff" }
], 465.5);
legend([
  { x: 17, text: "Relative Strength Index(14)" }, { x: 183, w: 11, color: GREEN }
], 638);
legend([
  { x: 17, text: "MACD(12,26)" }, { x: 87.5, w: 11, color: MACDC },
  { x: 108, text: "MACD EMA(9)" }, { x: 178, w: 11, color: RED },
  { x: 199, text: "Divergence" }, { x: 263.5, w: 11, color: DIV }
], 810.5);

svg.append("text").attr("x", 993).attr("y", 13.5).text("2/28/12");

svg.append("text").attr("x", 888).attr("y", 466)
  .attr("textLength", 93).attr("lengthAdjust", "spacingAndGlyphs")
  .style("font-family", "DejaVu Sans, sans-serif").style("font-weight", "bold")
  .style("font-size", "11px").style("fill", "#34345f")
  .text("\u00A9BigCharts.com");

svg.append("text")
  .attr("transform", "translate(1033,547) rotate(-90)")
  .attr("text-anchor", "middle")
  .text("Millions");
</script>
</body>
</html>
